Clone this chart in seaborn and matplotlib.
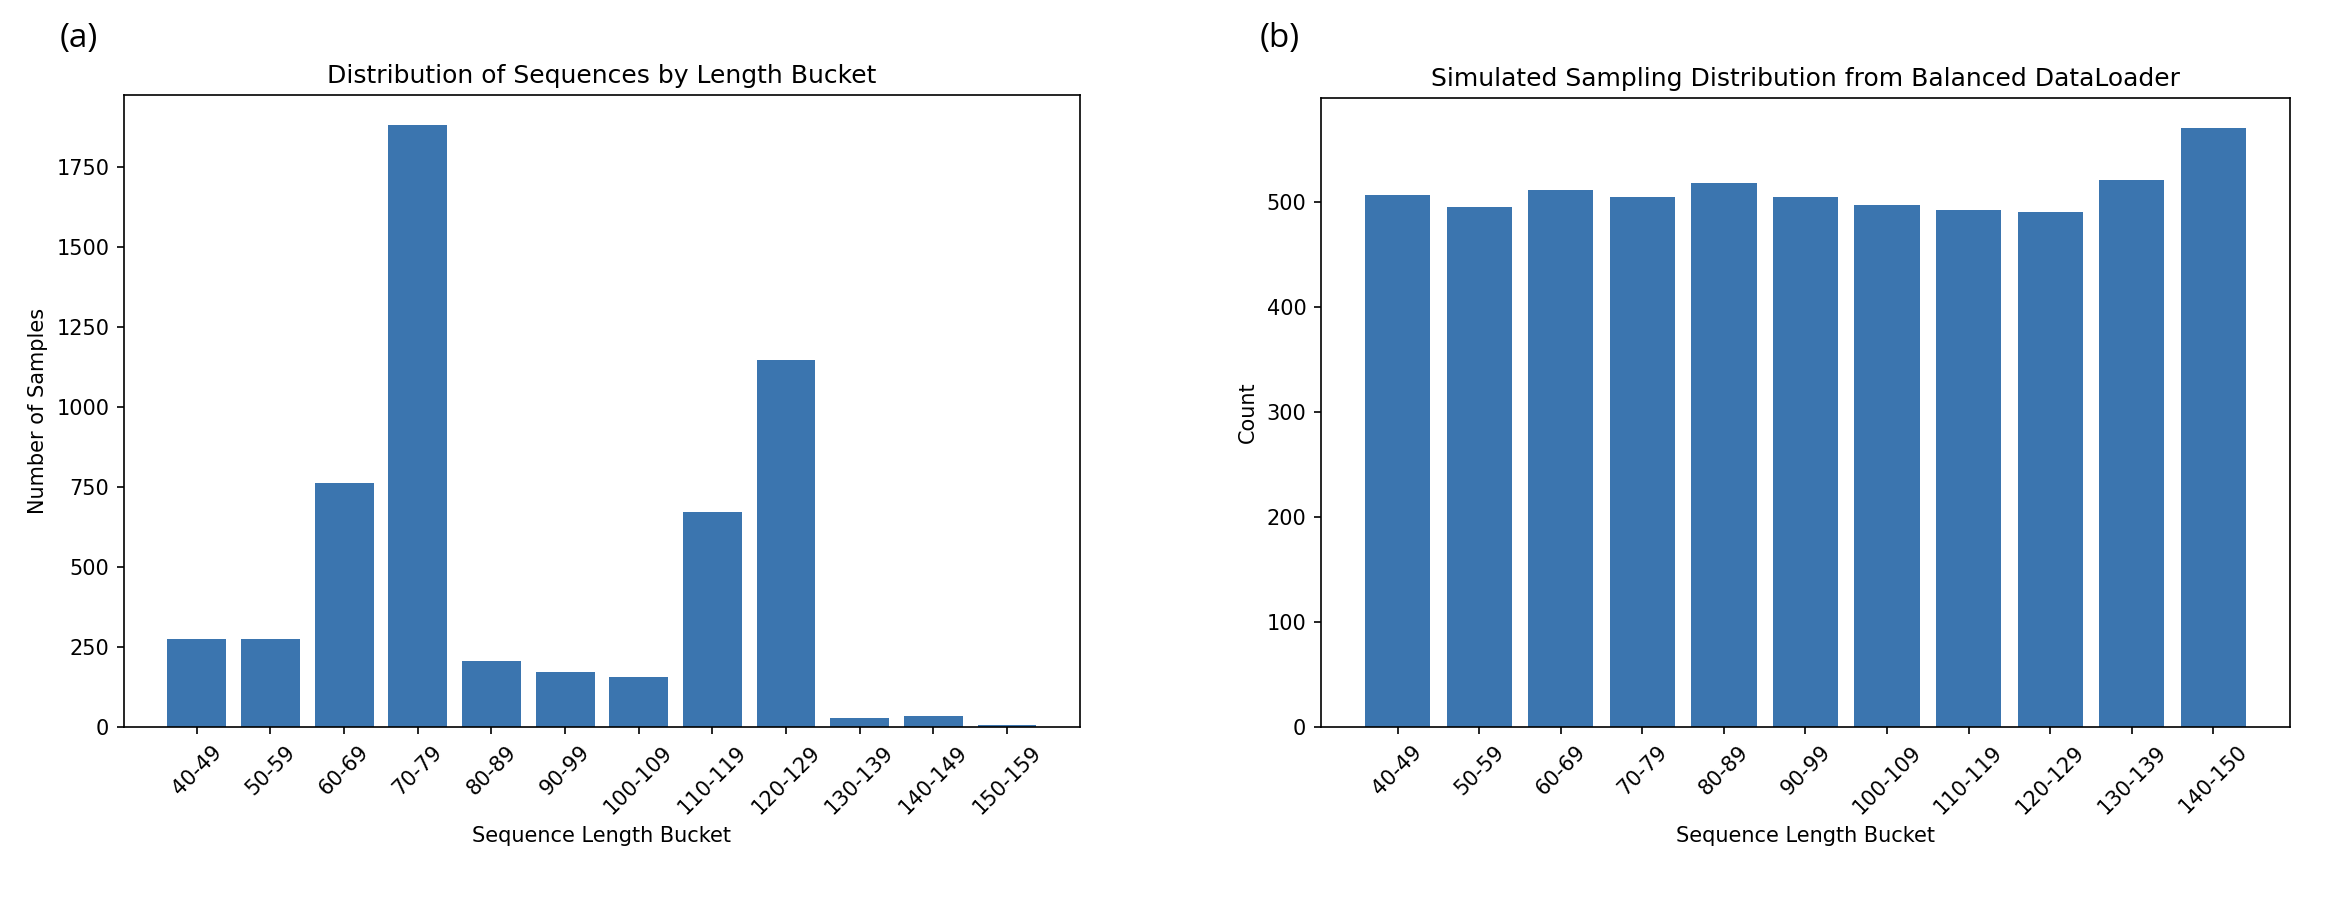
import numpy as np
import pandas as pd
import matplotlib
matplotlib.use('Agg')
import matplotlib.pyplot as plt
import seaborn as sns

# ─────────────────────────────────────────────
# DATA
# ─────────────────────────────────────────────
raw_buckets = ['40-49', '50-59', '60-69', '70-79', '80-89', '90-99',
               '100-109', '110-119', '120-129', '130-139', '140-149', '150-159']
raw_counts = [274, 274, 762, 1881, 206, 171, 155, 671, 1148, 29, 36, 7]

bal_buckets = ['40-49', '50-59', '60-69', '70-79', '80-89', '90-99',
               '100-109', '110-119', '120-129', '130-139', '140-150']
bal_counts = [506, 495, 511, 504, 518, 504, 497, 492, 490, 521, 570]

BAR_COLOR = '#3b75af'

DPI = 150
fig = plt.figure(figsize=(2342 / DPI, 898 / DPI), dpi=DPI)
ax1 = fig.add_axes([0.0529, 0.1904, 0.4082, 0.7038])
ax2 = fig.add_axes([0.5640, 0.1904, 0.4138, 0.7004])


def draw(ax, buckets, counts, title, ylabel):
    df = pd.DataFrame({'bucket': buckets, 'count': counts})
    sns.barplot(data=df, x='bucket', y='count', color=BAR_COLOR,
                saturation=1, width=0.8, ax=ax)
    n = len(buckets)
    span = n - 0.2
    ax.set_xlim(-0.4 - 0.05 * span, n - 0.6 + 0.05 * span)
    ax.set_ylim(0, max(counts) * 1.05)
    ax.set_title(title)
    ax.set_xlabel('Sequence Length Bucket')
    ax.set_ylabel(ylabel)
    ax.tick_params(axis='x', labelrotation=45)


draw(ax1, raw_buckets, raw_counts,
     'Distribution of Sequences by Length Bucket', 'Number of Samples')
draw(ax2, bal_buckets, bal_counts,
     'Simulated Sampling Distribution from Balanced DataLoader', 'Count')

# panel labels
fig.text(60 / 2342, 1 - 47 / 898, '(a)', family=['Open Sans', 'DejaVu Sans'],
         fontsize=16, ha='left', va='baseline')
fig.text(1260 / 2342, 1 - 47 / 898, '(b)', family=['Open Sans', 'DejaVu Sans'],
         fontsize=16, ha='left', va='baseline')

fig.savefig('out.png', dpi=DPI)
